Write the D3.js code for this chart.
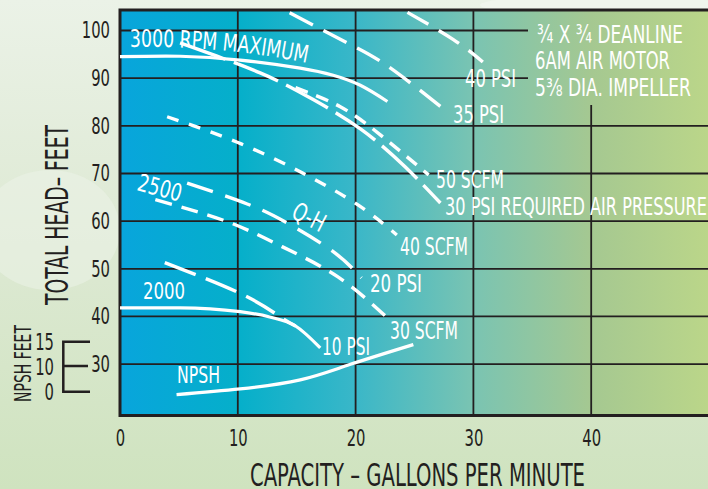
<!DOCTYPE html>
<html>
<head>
<meta charset="utf-8">
<script src="https://cdn.jsdelivr.net/npm/d3@7"></script>
<style>
  body { margin: 0; background: #dfead6; }
  svg { display: block; }
  .cond { font-family: "Liberation Sans Narrow", "Arial Narrow", "DejaVu Sans Condensed", sans-serif; font-stretch: condensed; }
</style>
</head>
<body>
<script>
// capacity ticks (gpm) and head ticks (ft)
const xTicks = [0, 10, 20, 30, 40];
const yTicks = [30, 40, 50, 60, 70, 80, 90, 100];
const npshTicks = ["15", "10", "0"];

// curves, [gpm, feet]
const rpm3000 = [[0, 94.5], [5.1, 94.6], [10.2, 93.8], [15.3, 92.1], [18.1, 90.6], [20.4, 88.5], [22.7, 85.1]];
const rpm2000 = [[0, 41.8], [5.1, 41.8], [10.2, 41.0], [12.7, 39.9], [14.9, 38.0], [17.0, 33.4]];
const npsh = [[4.8, 23.6], [10.2, 24.8], [15.3, 26.7], [19.5, 29.9], [24.9, 34.1]];
const psi40 = [[24.4, 103.8], [28.3, 98.1], [30.8, 93.4]];
const psi35 = [[14.4, 103.7], [19.3, 97.4], [22.8, 92.4], [27.8, 82.9]];
const psi30 = [[5.1, 97.4], [11.9, 91.1], [16.4, 85.5], [20.5, 79.2], [24.2, 71.4], [27.2, 63.8]];
const scfm50 = [[14.9, 88.0], [18.7, 84.0], [22.1, 78.1], [26.2, 69.7]];
const scfm40 = [[4.0, 81.9], [9.9, 76.6], [15.5, 70.1], [20.2, 63.4], [23.5, 57.1]];
const psi20 = [[5.7, 68.0], [10.8, 63.6], [14.2, 59.6], [18.1, 53.6], [20.5, 48.1]];
const scfm30 = [[3.0, 64.5], [9.1, 59.9], [13.8, 54.6], [18.5, 48.3], [22.7, 39.7]];
const psi10 = [[3.8, 51.3], [10.4, 44.6], [13.6, 39.9], [14.9, 38.0]];

const W = 708, H = 489;
const plot = { left: 120, top: 10, right: 709, bottom: 415.6 };
const dark = "#231f20";

const xScale = d3.scaleLinear().domain([0, 50]).range([plot.left, plot.right]);
const yScale = d3.scaleLinear().domain([19.2, 104.3]).range([plot.bottom, plot.top]);

const svg = d3.select("body").append("svg")
  .attr("width", W)
  .attr("height", H);

const defs = svg.append("defs");
const bg = defs.append("linearGradient").attr("id", "bg").attr("x1", 0).attr("y1", 0).attr("x2", 0).attr("y2", 1);
bg.append("stop").attr("offset", 0).attr("stop-color", "#ebf2e7");
bg.append("stop").attr("offset", 0.5).attr("stop-color", "#dde9d3");
bg.append("stop").attr("offset", 1).attr("stop-color", "#cfe3bf");

const pg = defs.append("linearGradient").attr("id", "plotbg");
[[0, "#08a5dc"], [0.2, "#05afca"], [0.4, "#3ab7c8"], [0.6, "#7ac4b2"], [0.8, "#a5c891"], [1, "#bbd689"]]
  .forEach(s => pg.append("stop").attr("offset", s[0]).attr("stop-color", s[1]));

svg.append("rect").attr("width", W).attr("height", H).attr("fill", "url(#bg)");
// faint light patches in the backdrop
svg.append("ellipse").attr("cx", 50).attr("cy", 230).attr("rx", 70).attr("ry", 60).attr("fill", "#eef3ea").attr("opacity", 0.5);
svg.append("ellipse").attr("cx", 600).attr("cy", 5).attr("rx", 120).attr("ry", 10).attr("fill", "#f4f7f1").attr("opacity", 0.6);

svg.append("rect")
  .attr("x", plot.left).attr("y", plot.top)
  .attr("width", plot.right - plot.left).attr("height", plot.bottom - plot.top)
  .attr("fill", "url(#plotbg)");

// grid
const grid = svg.append("g").attr("stroke", dark).attr("stroke-width", 1.8);
yTicks.forEach(v => {
  grid.append("line")
    .attr("x1", plot.left).attr("x2", v >= 90 ? 528 : plot.right)
    .attr("y1", yScale(v)).attr("y2", yScale(v));
});
xTicks.slice(1).forEach(v => {
  grid.append("line")
    .attr("x1", xScale(v)).attr("x2", xScale(v))
    .attr("y1", v == 40 ? 105 : plot.top).attr("y2", plot.bottom);
});

// frame (top, left, bottom)
svg.append("path")
  .attr("d", `M${plot.right},${plot.top}H${plot.left}V${plot.bottom}H${plot.right}`)
  .attr("fill", "none").attr("stroke", dark).attr("stroke-width", 3);

// axes text
const xAxis = svg.append("g").attr("transform", `translate(0,${plot.bottom})`)
  .call(d3.axisBottom(xScale).tickValues(xTicks).tickSize(0).tickPadding(14));
const yAxis = svg.append("g").attr("transform", `translate(${plot.left},0)`)
  .call(d3.axisLeft(yScale).tickValues(yTicks).tickSize(0).tickPadding(10));
[xAxis, yAxis].forEach(a => {
  a.select(".domain").remove();
  a.selectAll("text").attr("class", "cond").attr("font-size", 23).attr("fill", dark)
    .attr("textLength", d => String(d).length * 9.4).attr("lengthAdjust", "spacingAndGlyphs");
});
xAxis.selectAll("text").attr("dy", "0.71em").attr("y", 14);

svg.append("text").attr("class", "cond")
  .attr("x", 250).attr("y", 486)
  .attr("font-size", 32).attr("fill", dark)
  .attr("textLength", 335).attr("lengthAdjust", "spacingAndGlyphs")
  .text("CAPACITY – GALLONS PER MINUTE");

svg.append("text").attr("class", "cond")
  .attr("transform", "translate(68,305) rotate(-90)")
  .attr("font-size", 32).attr("fill", dark)
  .attr("textLength", 180).attr("lengthAdjust", "spacingAndGlyphs")
  .text("TOTAL HEAD– FEET");

// NPSH side scale
svg.append("text").attr("class", "cond")
  .attr("transform", "translate(31,402) rotate(-90)")
  .attr("font-size", 23).attr("fill", dark)
  .attr("textLength", 77).attr("lengthAdjust", "spacingAndGlyphs")
  .text("NPSH FEET");
const npshY = [350, 375, 400];
npshTicks.forEach((t, i) => {
  svg.append("text").attr("class", "cond")
    .attr("x", 54).attr("y", npshY[i])
    .attr("text-anchor", "end")
    .attr("font-size", 23).attr("fill", dark)
    .attr("textLength", t.length * 9.4).attr("lengthAdjust", "spacingAndGlyphs")
    .text(t);
});
svg.append("path")
  .attr("d", "M90,341.7H63.3V391.7H90M63.3,366H88")
  .attr("fill", "none").attr("stroke", dark).attr("stroke-width", 2.5);

// curves
const smooth = d3.line().x(d => xScale(d[0])).y(d => yScale(d[1])).curve(d3.curveNatural);
const bent = d3.line().x(d => xScale(d[0])).y(d => yScale(d[1])).curve(d3.curveMonotoneX);
function curve(data, dash, gen) {
  svg.append("path")
    .attr("d", (gen || smooth)(data))
    .attr("fill", "none")
    .attr("stroke", "#fff")
    .attr("stroke-width", dash ? 3.4 : 3.2)
    .attr("stroke-dasharray", dash || null);
}
curve(rpm3000);
curve(rpm2000, null, bent);
curve(npsh);
curve(psi40, "24,12");
curve(psi35, "26,12");
curve(psi30, "48,9");
curve(scfm50, "13,9");
curve(scfm40, "12,11");
curve(psi20, "27,13");
curve(scfm30, "17,10");
curve(psi10, "33,11");

// labels
function label(txt, x, y, len, size) {
  return svg.append("text").attr("class", "cond")
    .attr("x", x).attr("y", y)
    .attr("font-size", size || 24).attr("fill", "#fff")
    .attr("textLength", len).attr("lengthAdjust", "spacingAndGlyphs")
    .text(txt);
}
label("40 PSI", 465, 87, 51);
label("35 PSI", 453, 123, 51);
label("50 SCFM", 436, 188, 68);
label("30 PSI REQUIRED AIR PRESSURE", 445, 215, 262);
label("40 SCFM", 400, 255, 68);
label("20 PSI", 370, 292, 52);
label("30 SCFM", 390, 339, 68);
label("10 PSI", 322, 355, 48);
label("NPSH", 177, 383, 43, 23);
label("2000", 143, 299, 42, 23);

label("¾ X ¾ DEANLINE", 537, 43, 146, 25);
label("6AM AIR MOTOR", 535, 69, 135, 25);
label("5⅜ DIA. IMPELLER", 535, 96, 156, 25);

svg.append("text").attr("class", "cond")
  .attr("transform", "translate(136,190) rotate(15)")
  .attr("font-size", 24).attr("fill", "#fff")
  .attr("textLength", 45).attr("lengthAdjust", "spacingAndGlyphs")
  .text("2500");
svg.append("text").attr("class", "cond")
  .attr("transform", "translate(290,217) rotate(27)")
  .attr("font-size", 25).attr("fill", "#fff")
  .attr("textLength", 34).attr("lengthAdjust", "spacingAndGlyphs")
  .text("Q-H");

defs.append("path").attr("id", "arc3000").attr("d", "M130,47 Q218,45 307,63");
svg.append("text").attr("class", "cond")
  .attr("font-size", 24).attr("fill", "#fff")
  .append("textPath").attr("href", "#arc3000")
  .attr("textLength", 178).attr("lengthAdjust", "spacingAndGlyphs")
  .text("3000 RPM MAXIMUM");
</script>
</body>
</html>
